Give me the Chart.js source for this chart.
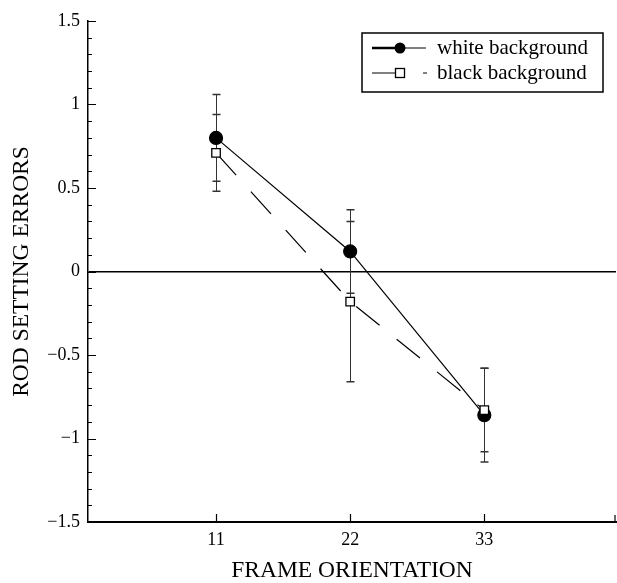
<!DOCTYPE html>
<html>
<head>
<meta charset="utf-8">
<script src="https://cdn.jsdelivr.net/npm/chart.js@4/dist/chart.umd.min.js"></script>
<style>
  body { margin: 0; background: #fff; }
  canvas { display: block; }
</style>
</head>
<body>
<canvas id="rodChart" width="617" height="583"></canvas>
<script>
// values
const frameOrientation = [11, 22, 33];
const whiteMeans = [0.80, 0.12, -0.86];
const whiteErrors = [0.26, 0.25, 0.28];
const blackMeans = [0.71, -0.18, -0.83];
const blackErrors = [0.23, 0.48, 0.25];
const yTickValues = [-1.5, -1, -0.5, 0, 0.5, 1, 1.5];
const xTickValues = [11, 22, 33];
const seriesLabels = ['white background', 'black background'];

const serif = 'Liberation Serif, Times New Roman, serif';

// error bars, inward ticks and the boxed legend
const extrasPlugin = {
  id: 'extras',
  beforeDatasetsDraw(chart) {
    const ctx = chart.ctx;
    const xs = chart.scales.x, ys = chart.scales.y;
    const sets = [[whiteMeans, whiteErrors], [blackMeans, blackErrors]];
    ctx.save();
    ctx.strokeStyle = '#333';
    sets.forEach(([means, errs]) => {
      frameOrientation.forEach((f, i) => {
        const x = Math.round(xs.getPixelForValue(f)) + 0.5;
        const hi = ys.getPixelForValue(means[i] + errs[i]);
        const lo = ys.getPixelForValue(means[i] - errs[i]);
        ctx.lineWidth = 1;
        ctx.beginPath();
        ctx.moveTo(x, hi); ctx.lineTo(x, lo);
        ctx.stroke();
        ctx.lineWidth = 1.5;
        ctx.beginPath();
        ctx.moveTo(x - 4, hi); ctx.lineTo(x + 4, hi);
        ctx.moveTo(x - 4, lo); ctx.lineTo(x + 4, lo);
        ctx.stroke();
      });
    });
    ctx.restore();
  },
  afterDraw(chart) {
    const ctx = chart.ctx;
    const area = chart.chartArea;
    const xs = chart.scales.x, ys = chart.scales.y;
    ctx.save();
    ctx.strokeStyle = '#000';
    ctx.lineWidth = 1.2;
    ctx.beginPath();
    // y ticks every 0.1, longer at labelled values
    for (let k = -15; k <= 15; k++) {
      const y = Math.round(ys.getPixelForValue(k / 10)) + 0.5;
      const len = k % 5 === 0 ? 8 : 4;
      ctx.moveTo(area.left, y); ctx.lineTo(area.left + len, y);
    }
    xTickValues.forEach(v => {
      const x = Math.round(xs.getPixelForValue(v)) + 0.5;
      ctx.moveTo(x, area.bottom); ctx.lineTo(x, area.bottom - 8);
    });
    ctx.moveTo(area.right - 1, area.bottom); ctx.lineTo(area.right - 1, area.bottom - 7);
    ctx.stroke();

    // legend
    const boxL = area.right - 254, boxT = area.top + 12, boxW = 241, boxH = 59;
    ctx.fillStyle = '#fff';
    ctx.fillRect(boxL, boxT, boxW, boxH);
    ctx.lineWidth = 1.5;
    ctx.strokeRect(boxL, boxT, boxW, boxH);
    const rows = [boxT + 15, boxT + 40];
    const mx = boxL + 38;
    // white background row
    ctx.lineWidth = 2.5;
    ctx.beginPath(); ctx.moveTo(boxL + 10, rows[0]); ctx.lineTo(mx, rows[0]); ctx.stroke();
    ctx.lineWidth = 1;
    ctx.beginPath(); ctx.moveTo(mx, rows[0]); ctx.lineTo(boxL + 64, rows[0]); ctx.stroke();
    ctx.fillStyle = '#000';
    ctx.beginPath(); ctx.arc(mx, rows[0], 5.5, 0, Math.PI * 2); ctx.fill();
    // black background row
    ctx.lineWidth = 1;
    ctx.beginPath();
    ctx.moveTo(boxL + 10, rows[1]); ctx.lineTo(mx - 5, rows[1]);
    ctx.moveTo(boxL + 61, rows[1]); ctx.lineTo(boxL + 65, rows[1]);
    ctx.stroke();
    ctx.fillStyle = '#fff';
    ctx.fillRect(mx - 4.5, rows[1] - 4.5, 9, 9);
    ctx.lineWidth = 1.3;
    ctx.strokeRect(mx - 4.5, rows[1] - 4.5, 9, 9);

    ctx.fillStyle = '#000';
    ctx.font = '21px ' + serif;
    ctx.textBaseline = 'middle';
    ctx.textAlign = 'left';
    seriesLabels.forEach((t, i) => ctx.fillText(t, boxL + 75, rows[i]));
    ctx.restore();
  }
};

const fmt = v => String(v).replace('-', '\u2212');

new Chart(document.getElementById('rodChart'), {
  type: 'line',
  data: {
    datasets: [
      {
        label: seriesLabels[1],
        data: frameOrientation.map((f, i) => ({ x: f, y: blackMeans[i] })),
        borderColor: '#000',
        borderWidth: 1.2,
        borderDash: [30, 22],
        pointStyle: 'rect',
        pointRadius: 6,
        pointBackgroundColor: '#fff',
        pointBorderColor: '#000',
        pointBorderWidth: 1.3,
        tension: 0
      },
      {
        label: seriesLabels[0],
        data: frameOrientation.map((f, i) => ({ x: f, y: whiteMeans[i] })),
        borderColor: '#000',
        borderWidth: 1.2,
        pointStyle: 'circle',
        pointRadius: 6.5,
        pointBackgroundColor: '#000',
        pointBorderColor: '#000',
        tension: 0
      }
    ]
  },
  options: {
    responsive: false,
    animation: false,
    layout: { autoPadding: false, padding: { top: 21, right: 1, left: 0, bottom: 0 } },
    plugins: { legend: { display: false }, tooltip: { enabled: false } },
    scales: {
      x: {
        type: 'linear',
        min: 0.5,
        max: 43.8,
        afterBuildTicks: axis => { axis.ticks = xTickValues.map(v => ({ value: v })); },
        afterFit: axis => {
          axis.height = 61;
          axis.paddingLeft = 0;
          axis.paddingRight = 0;
        },
        grid: { display: false, drawTicks: false },
        border: { display: true, color: '#000', width: 2 },
        ticks: { color: '#000', padding: 7, font: { family: serif, size: 18 } },
        title: {
          display: true,
          text: 'FRAME ORIENTATION',
          color: '#000',
          font: { family: serif, size: 23.5 },
          padding: { top: 0, bottom: -2 }
        }
      },
      y: {
        min: -1.5,
        max: 1.5,
        afterBuildTicks: axis => { axis.ticks = yTickValues.map(v => ({ value: v })); },
        afterFit: axis => {
          axis.width = 88;
          axis.paddingTop = 0;
          axis.paddingBottom = 0;
        },
        grid: {
          drawTicks: false,
          lineWidth: 1.5,
          color: c => (c.tick && c.tick.value === 0 ? '#000' : 'rgba(0,0,0,0)')
        },
        border: { display: true, color: '#000', width: 1.5 },
        ticks: {
          color: '#000',
          padding: 8,
          font: { family: serif, size: 18 },
          callback: v => fmt(v)
        },
        title: {
          display: true,
          text: 'ROD SETTING ERRORS',
          color: '#000',
          font: { family: serif, size: 23.5 },
          padding: { top: 8, bottom: 0 }
        }
      }
    }
  },
  plugins: [extrasPlugin]
});
</script>
</body>
</html>
